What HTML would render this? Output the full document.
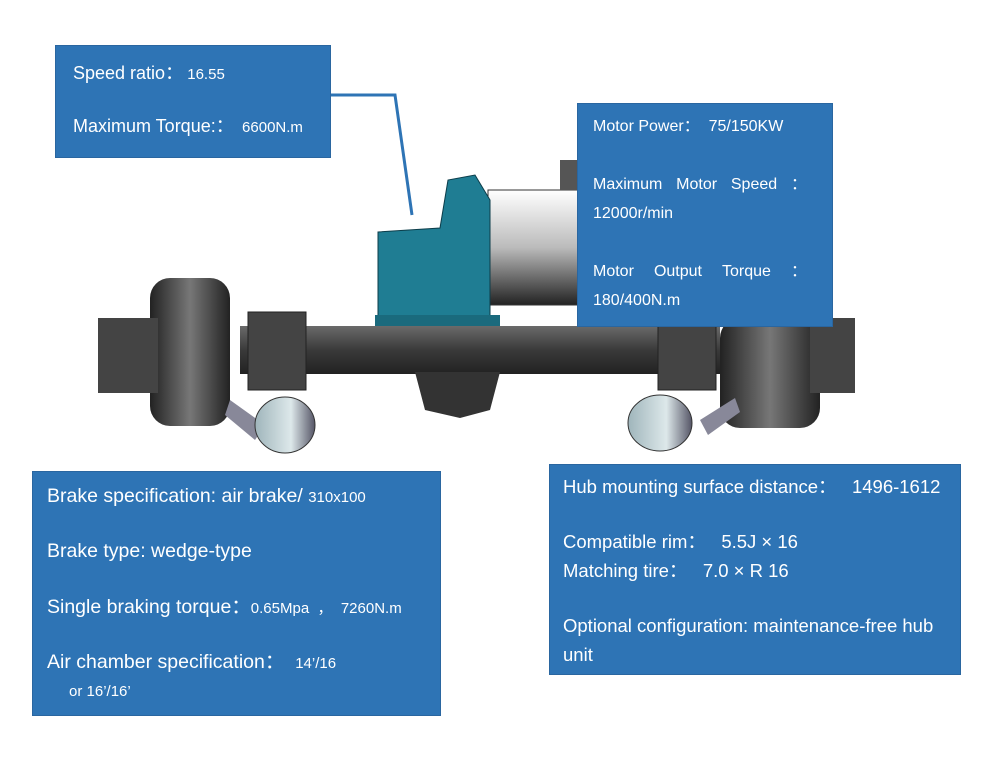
<!DOCTYPE html>
<html><head><meta charset="utf-8"><style>
body{margin:0;width:994px;height:779px;background:#fff;position:relative;overflow:hidden;font-family:"Liberation Sans","Noto Sans CJK SC",sans-serif;}
.box{position:absolute;background:#2E74B5;border:1px solid #2a66a0;box-sizing:border-box}
.t{position:absolute;color:#fff;white-space:nowrap;font-size:19.5px;line-height:22px}
.s{font-size:15px}
.m{font-size:16px}
</style></head><body>
<svg width="994" height="779" style="position:absolute;left:0;top:0">
<defs>
<linearGradient id="g1" x1="0" x2="0" y1="0" y2="1"><stop offset="0" stop-color="#6a6a6a"/><stop offset=".5" stop-color="#3a3a3a"/><stop offset="1" stop-color="#222"/></linearGradient>
<linearGradient id="g2" x1="0" x2="1"><stop offset="0" stop-color="#222"/><stop offset=".5" stop-color="#777"/><stop offset="1" stop-color="#222"/></linearGradient>
<linearGradient id="g3" x1="0" x2="0" y1="0" y2="1"><stop offset="0" stop-color="#fff"/><stop offset=".5" stop-color="#bbb"/><stop offset="1" stop-color="#222"/></linearGradient>
<linearGradient id="g4" x1="0" x2="1"><stop offset="0" stop-color="#9fb5bb"/><stop offset=".6" stop-color="#dde8ea"/><stop offset="1" stop-color="#556"/></linearGradient>
</defs>
<rect x="488" y="190" width="92" height="115" fill="url(#g3)" stroke="#333"/>
<rect x="560" y="160" width="20" height="30" fill="#555"/>
<path d="M378 232 L440 228 L448 180 L475 175 L490 200 L490 318 L378 318 Z" fill="#1f7d93" stroke="#0c3d4a"/>
<rect x="375" y="315" width="125" height="15" fill="#1a6a7d"/>
<rect x="240" y="326" width="480" height="48" fill="url(#g1)"/>
<path d="M415 372 L500 372 L490 410 L460 418 L425 410 Z" fill="#333"/>
<rect x="248" y="312" width="58" height="78" fill="#444" stroke="#222"/>
<rect x="658" y="312" width="58" height="78" fill="#444" stroke="#222"/>
<rect x="150" y="278" width="80" height="148" rx="20" fill="url(#g2)"/>
<rect x="98" y="318" width="60" height="75" fill="#444"/>
<rect x="720" y="318" width="100" height="110" rx="20" fill="url(#g2)"/>
<rect x="810" y="318" width="45" height="75" fill="#444"/>
<path d="M230 400 L265 425 L255 440 L225 415 Z" fill="#889"/>
<ellipse cx="285" cy="425" rx="30" ry="28" fill="url(#g4)" stroke="#333"/>
<path d="M735 398 L700 420 L708 435 L740 412 Z" fill="#889"/>
<ellipse cx="660" cy="423" rx="32" ry="28" fill="url(#g4)" stroke="#333"/>
<polyline points="330,95 395,95 412,215" fill="none" stroke="#2E74B5" stroke-width="3"/>
</svg>
<div class="box" style="left:55px;top:45px;width:276px;height:113px"></div>
<div class="t" style="left:73px;top:62px;font-size:18px">Speed ratio：<span class="s">&nbsp;16.55</span></div>
<div class="t" style="left:73px;top:115px;font-size:18px">Maximum Torque:：<span class="s">&nbsp;&nbsp;6600N.m</span></div>

<div class="box" style="left:577px;top:103px;width:256px;height:224px"></div>
<div class="t m" style="left:593px;top:116px">Motor Power：&nbsp; 75/150KW</div>
<div class="t m" style="left:593px;top:174px;width:214px;display:flex;justify-content:space-between"><span>Maximum</span><span>Motor</span><span>Speed</span><span>：</span></div>
<div class="t m" style="left:593px;top:203px">12000r/min</div>
<div class="t m" style="left:593px;top:261px;width:214px;display:flex;justify-content:space-between"><span>Motor</span><span>Output</span><span>Torque</span><span>：</span></div>
<div class="t m" style="left:593px;top:290px">180/400N.m</div>

<div class="box" style="left:32px;top:471px;width:409px;height:245px"></div>
<div class="t" style="left:47px;top:485px">Brake specification: air brake/ <span class="s">310x100</span></div>
<div class="t" style="left:47px;top:540px">Brake type: wedge-type</div>
<div class="t" style="left:47px;top:596px">Single braking torque：<span class="s">0.65Mpa &nbsp;， &nbsp;7260N.m</span></div>
<div class="t" style="left:47px;top:651px">Air chamber specification：&nbsp; <span class="s">14’/16</span></div>
<div class="t s" style="left:69px;top:681px">or 16’/16’</div>

<div class="box" style="left:549px;top:464px;width:412px;height:211px"></div>
<div class="t" style="left:563px;top:476px;font-size:18.5px">Hub mounting surface distance：&nbsp;&nbsp; 1496-1612</div>
<div class="t" style="left:563px;top:531px;font-size:18.5px">Compatible rim：&nbsp;&nbsp; 5.5J × 16</div>
<div class="t" style="left:563px;top:560px;font-size:18.5px">Matching tire：&nbsp;&nbsp; 7.0 × R 16</div>
<div class="t" style="left:563px;top:615px;font-size:18.5px">Optional configuration: maintenance-free hub</div>
<div class="t" style="left:563px;top:644px;font-size:18.5px">unit</div>
</body></html>
